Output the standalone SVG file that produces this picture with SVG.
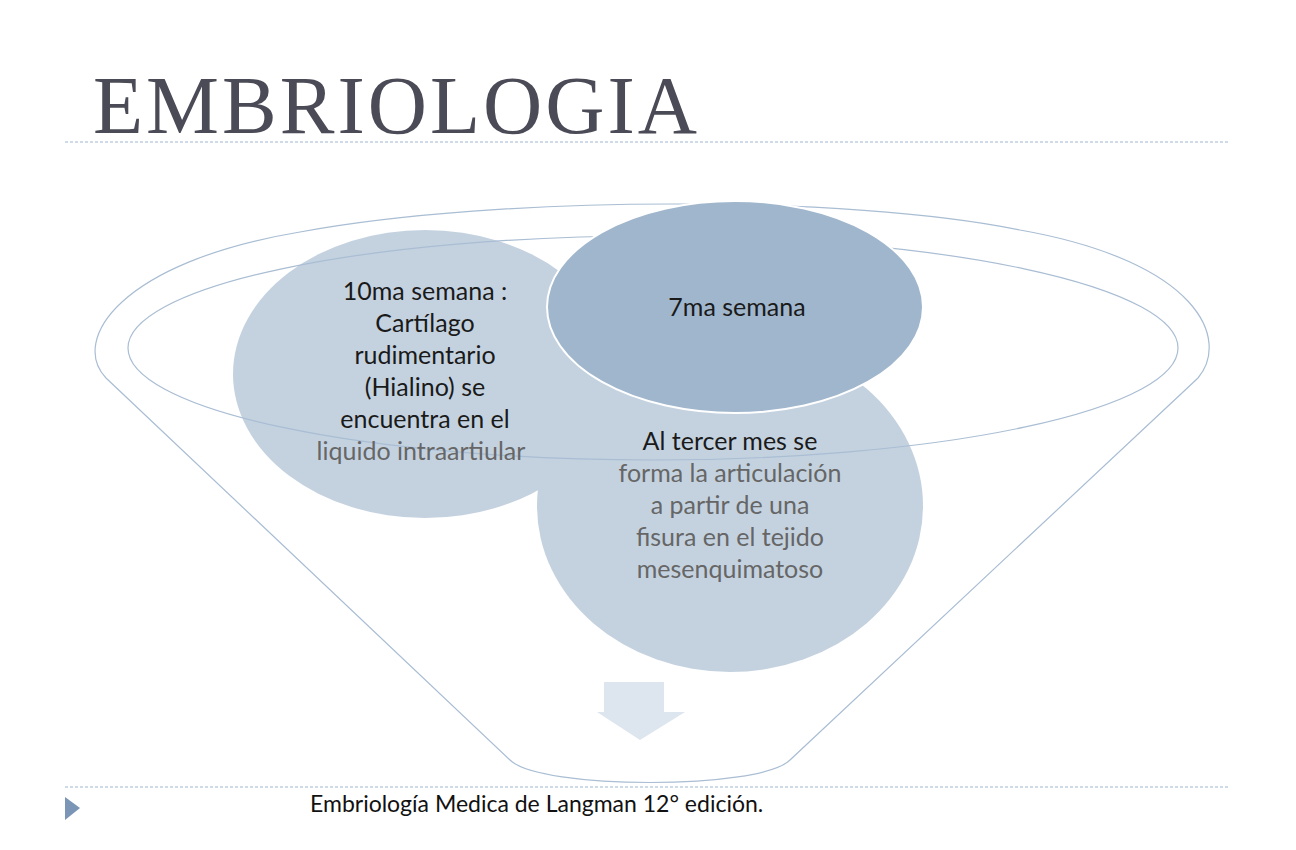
<svg xmlns="http://www.w3.org/2000/svg" width="1296" height="850" viewBox="0 0 1296 850">
<style>
.t{font-family:Lato,"Liberation Sans",sans-serif;font-size:25px;text-anchor:middle;fill:#1a1a1a}
.g{fill:#666}
.dash{stroke:#9fb6cf;stroke-width:1;stroke-dasharray:3 2;fill:none}
.ln{stroke:#a9bdd3;stroke-width:1.2;fill:none}
</style>
<rect width="1296" height="850" fill="#fff"/>
<text x="93" y="133" font-family="'Liberation Serif',serif" font-size="82" fill="#4b4b57" letter-spacing="3">EMBRIOLOGIA</text>
<line class="dash" x1="65" y1="142" x2="1230" y2="142"/>
<line class="dash" x1="65" y1="787" x2="1230" y2="787"/>
<g id="connectors">
<path class="ln" d="M106,378 C70,340 120,262 300,232 C500,195 850,195 1020,230 C1200,262 1230,340 1198,378 L790,760 C760,790 540,790 510,760 Z"/>
<polygon id="arrow" points="604,682 664,682 664,712 685,712 640,740 597,712 604,712" fill="#dde5ee"/>
</g>
<g id="n2"><ellipse cx="730" cy="506" rx="193" ry="166" fill="#c4d2e0"/></g>
<g id="n1"><ellipse cx="425" cy="374" rx="192" ry="144" fill="#c4d2e0"/></g>
<g id="overlay"><ellipse cx="653" cy="348" rx="525" ry="112" fill="#5a84b0" fill-opacity="0.3" class="ln"/></g>
<g id="n3"><ellipse cx="735" cy="307" rx="188" ry="106" fill="#a0b6cd" stroke="#fff" stroke-width="2"/></g>
<text class="t" x="425" y="300">10ma semana :</text>
<text class="t" x="425" y="332">Cartílago</text>
<text class="t" x="425" y="364">rudimentario</text>
<text class="t" x="425" y="396">(Hialino) se</text>
<text class="t" x="425" y="428">encuentra en el</text>
<text class="t g" x="421" y="460">liquido intraartiular</text>
<text class="t" x="730" y="450">Al tercer mes se</text>
<text class="t g" x="730" y="482">forma la articulación</text>
<text class="t g" x="730" y="514">a partir de una</text>
<text class="t g" x="730" y="546">fisura en el tejido</text>
<text class="t g" x="730" y="578">mesenquimatoso</text>
<text class="t" x="737" y="316">7ma semana</text>
<polygon points="65,797 65,820 80,808" fill="#7a95b5"/>
<text x="310" y="812" font-family="Lato,'Liberation Sans',sans-serif" font-size="23" fill="#111">Embriología Medica de Langman 12° edición.</text>
</svg>
